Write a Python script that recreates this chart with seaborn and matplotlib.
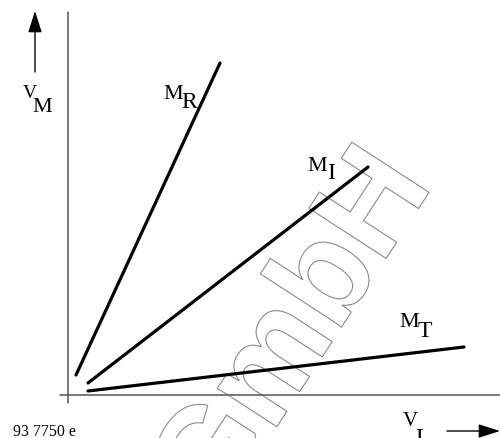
import matplotlib
matplotlib.use("Agg")
import matplotlib.pyplot as plt
import matplotlib.patheffects as pe
import seaborn as sns
import pandas as pd

# ---- data (units: arbitrary, origin at axis crossing) ----
curves = ["R", "I", "T"]
x_start = [0.2, 0.5, 0.5]
x_end = [3.8, 7.5, 9.9]
y_start = [0.5, 0.3, 0.1]
y_end = [8.3, 5.7, 1.2]
code_label = "93 7750 e"
watermark = "GmbH"

rows = []
for c, xs, xe, ys, ye in zip(curves, x_start, x_end, y_start, y_end):
    rows.append({"curve": c, "V_L": xs, "V_M": ys})
    rows.append({"curve": c, "V_L": xe, "V_M": ye})
df = pd.DataFrame(rows)

sns.set_theme(style="white")
plt.rcParams["font.family"] = ["Liberation Serif", "DejaVu Serif"]

fig = plt.figure(figsize=(5.0, 4.38), dpi=100)
ax = fig.add_axes([0, 0, 1, 1])
W, H = 500, 438
X0, Y0, S = 68, 395, 40.0


def P(px, py):
    return (px - X0) / S, (Y0 - py) / S


# watermark (outlined, rotated)
ax.text(*P(215, 522), watermark, family="Liberation Sans", fontweight="bold",
        fontsize=96.5, rotation=57, ha="left", va="baseline",
        rotation_mode="anchor", color="none", zorder=0,
        path_effects=[pe.Stroke(linewidth=0.8, foreground="#8a8a8a")])

# axes lines
ax.plot([0, 0], [P(0, 403)[1], P(0, 12)[1]], color="#555555", lw=1.1, zorder=2)
ax.plot([P(60, 0)[0], P(500, 0)[0]], [0, 0], color="#555555", lw=1.1, zorder=2)

# curves
sns.lineplot(data=df, x="V_L", y="V_M", hue="curve", units="curve",
             estimator=None, sort=False, palette=["black"] * 3,
             linewidth=2.3, legend=False, ax=ax, zorder=3)
ax.set_xlim((0 - X0) / S, (W - X0) / S)
ax.set_ylim((Y0 - H) / S, (Y0 - 0) / S)
ax.axis("off")

# arrows
ax.annotate("", xy=P(35, 11), xytext=P(35, 72),
            arrowprops=dict(arrowstyle="-|>,head_length=1.1,head_width=0.35",
                            color="black", lw=1.0, shrinkA=0, shrinkB=0))
ax.annotate("", xy=P(500, 431), xytext=P(447, 431),
            arrowprops=dict(arrowstyle="-|>,head_length=1.1,head_width=0.35",
                            color="black", lw=1.0, shrinkA=0, shrinkB=0))


def label(px, py, main, sub, fs_main=16, fs_sub=17, dx=19, dy=9):
    ax.text(*P(px, py), main, fontsize=fs_main, ha="left", va="baseline",
            color="black", zorder=4)
    ax.text(*P(px + dx, py + dy), sub, fontsize=fs_sub, ha="left", va="baseline",
            color="black", zorder=4)


label(23, 98, "V", "M", fs_main=14, fs_sub=16, dx=9, dy=14)
label(163, 99, "M", "R", dx=18, dy=9)
label(307, 171, "M", "I", dx=20, dy=8)
label(399, 327, "M", "T", dx=19, dy=10)
label(403, 426, "V", "L", fs_main=15, fs_sub=17, dx=12, dy=18)

ax.text(*P(13, 436), code_label, fontsize=11.5, ha="left", va="baseline", color="black")

fig.savefig("out.png", dpi=100)
